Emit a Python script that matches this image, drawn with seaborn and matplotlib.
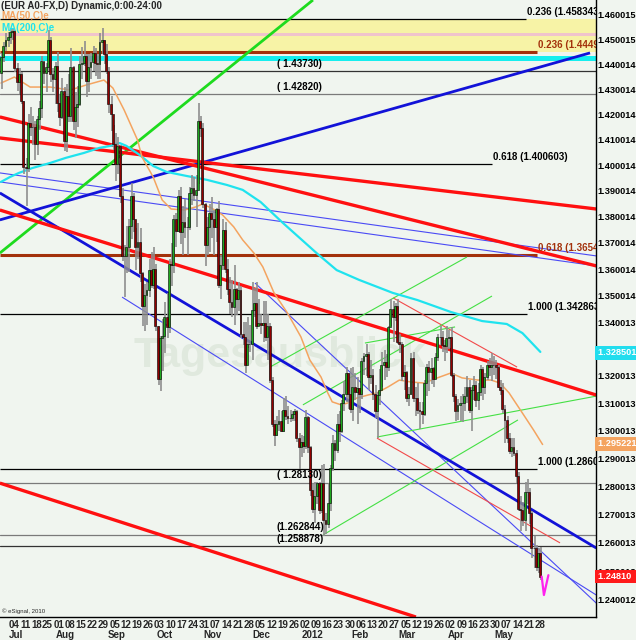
import numpy as np
import pandas as pd
import matplotlib
matplotlib.use("Agg")
import matplotlib.pyplot as plt
import matplotlib.transforms as mtrans
from matplotlib.ticker import NullLocator, NullFormatter, FixedLocator, FixedFormatter
import seaborn as sns

# ---- daily EUR/USD candles, 27 Jun 2011 .. 29 May 2012 ----
first_open = 1.4366
close = [1.4430, 1.4475, 1.4500, 1.4510, 1.4530,
         1.4535, 1.4385, 1.4330, 1.4360, 1.4255,
         1.3995, 1.3990, 1.4165, 1.4150, 1.4150,
         1.4085, 1.4180, 1.4225, 1.4415, 1.4365,
         1.4390, 1.4500, 1.4360, 1.4340, 1.4395,
         1.4245, 1.4190, 1.4295, 1.4095, 1.4275,
         1.4195, 1.4390, 1.4175, 1.4230, 1.4240,
         1.4400, 1.4405, 1.4435, 1.4335, 1.4390,
         1.4410, 1.4445, 1.4405, 1.4400, 1.4490,
         1.4500, 1.4440, 1.4375, 1.4240, 1.4200,
         1.4085, 1.4005, 1.4075, 1.3880, 1.3650,
         1.3650, 1.3685, 1.3765, 1.3880, 1.3790,
         1.3685, 1.3705, 1.3585, 1.3460, 1.3500,
         1.3520, 1.3595, 1.3540, 1.3600, 1.3385,
         1.3190, 1.3340, 1.3350, 1.3420, 1.3380,
         1.3620, 1.3615, 1.3790, 1.3745, 1.3880,
         1.3740, 1.3780, 1.3760, 1.3760, 1.3890,
         1.3910, 1.3885, 1.3905, 1.4175, 1.4145,
         1.3850, 1.3690, 1.3760, 1.3815, 1.3790,
         1.3760, 1.3830, 1.3540, 1.3615, 1.3750,
         1.3600, 1.3525, 1.3475, 1.3455, 1.3525,
         1.3485, 1.3520, 1.3355, 1.3345, 1.3240,
         1.3320, 1.3320, 1.3445, 1.3470, 1.3385,
         1.3395, 1.3390, 1.3395, 1.3345, 1.3385,
         1.3185, 1.3025, 1.2985, 1.3025, 1.3035,
         1.3000, 1.3075, 1.3055, 1.3045, 1.3045,
         1.3060, 1.3070, 1.2975, 1.2940, 1.2960,
         1.2945, 1.3050, 1.2940, 1.2785, 1.2720,
         1.2765, 1.2810, 1.2715, 1.2810, 1.2680,
         1.2665, 1.2740, 1.2865, 1.2955, 1.2930,
         1.3025, 1.3000, 1.3100, 1.3135, 1.3210,
         1.3135, 1.3080, 1.3160, 1.3140, 1.3155,
         1.3135, 1.3255, 1.3275, 1.3280, 1.3195,
         1.3205, 1.3135, 1.3070, 1.3130, 1.3150,
         1.3240, 1.3250, 1.3235, 1.3380, 1.3450,
         1.3420, 1.3460, 1.3325, 1.3320, 1.3200,
         1.3215, 1.3120, 1.3135, 1.3265, 1.3120,
         1.3120, 1.3075, 1.3070, 1.3060, 1.3175,
         1.3235, 1.3215, 1.3230, 1.3190, 1.3270,
         1.3345, 1.3345, 1.3315, 1.3310, 1.3340,
         1.3345, 1.3205, 1.3125, 1.3070, 1.3095,
         1.3100, 1.3100, 1.3125, 1.3160, 1.3075,
         1.3150, 1.3165, 1.3110, 1.3140, 1.3225,
         1.3160, 1.3195, 1.3240, 1.3235, 1.3240,
         1.3240, 1.3235, 1.3160, 1.3150, 1.3080,
         1.3040, 1.2975, 1.2925, 1.2940, 1.2920,
         1.2835, 1.2720, 1.2715, 1.2680, 1.2780,
         1.2780, 1.2705, 1.2580, 1.2580, 1.2515,
         1.2565, 1.2481]
high = [1.4445, 1.4490, 1.4525, 1.4530, 1.4545,
        1.4545, 1.4540, 1.4405, 1.4385, 1.4370,
        1.4255, 1.4030, 1.4200, 1.4230, 1.4195,
        1.4175, 1.4195, 1.4255, 1.4435, 1.4410,
        1.4405, 1.4540, 1.4510, 1.4385, 1.4410,
        1.4450, 1.4280, 1.4345, 1.4310, 1.4320,
        1.4360, 1.4465, 1.4395, 1.4290, 1.4315,
        1.4435, 1.4470, 1.4495, 1.4440, 1.4440,
        1.4445, 1.4475, 1.4465, 1.4440, 1.4525,
        1.4545, 1.4500, 1.4480, 1.4390, 1.4275,
        1.4160, 1.4125, 1.4110, 1.4080, 1.3910,
        1.3690, 1.3765, 1.3790, 1.3930, 1.3890,
        1.3755, 1.3775, 1.3755, 1.3590, 1.3545,
        1.3550, 1.3640, 1.3665, 1.3685, 1.3620,
        1.3385, 1.3350, 1.3410, 1.3475, 1.3510,
        1.3640, 1.3700, 1.3805, 1.3815, 1.3905,
        1.3915, 1.3840, 1.3870, 1.3800, 1.3915,
        1.3960, 1.3955, 1.3960, 1.4245, 1.4195,
        1.4165, 1.3855, 1.3800, 1.3850, 1.3875,
        1.3825, 1.3835, 1.3860, 1.3655, 1.3790,
        1.3780, 1.3640, 1.3570, 1.3560, 1.3615,
        1.3530, 1.3550, 1.3535, 1.3400, 1.3400,
        1.3420, 1.3390, 1.3550, 1.3530, 1.3550,
        1.3485, 1.3430, 1.3480, 1.3480, 1.3430,
        1.3395, 1.3195, 1.3040, 1.3055, 1.3075,
        1.3070, 1.3120, 1.3125, 1.3090, 1.3075,
        1.3070, 1.3080, 1.3075, 1.2990, 1.2985,
        1.2980, 1.3075, 1.3055, 1.2945, 1.2810,
        1.2815, 1.2815, 1.2815, 1.2875, 1.2880,
        1.2705, 1.2810, 1.2875, 1.2985, 1.2965,
        1.3060, 1.3070, 1.3110, 1.3180, 1.3235,
        1.3210, 1.3230, 1.3235, 1.3210, 1.3195,
        1.3155, 1.3265, 1.3285, 1.3320, 1.3290,
        1.3260, 1.3225, 1.3165, 1.3140, 1.3225,
        1.3290, 1.3295, 1.3280, 1.3385, 1.3485,
        1.3480, 1.3470, 1.3485, 1.3355, 1.3325,
        1.3240, 1.3220, 1.3160, 1.3285, 1.3290,
        1.3160, 1.3175, 1.3105, 1.3105, 1.3185,
        1.3245, 1.3255, 1.3265, 1.3235, 1.3285,
        1.3355, 1.3385, 1.3365, 1.3335, 1.3385,
        1.3370, 1.3380, 1.3210, 1.3135, 1.3115,
        1.3125, 1.3135, 1.3160, 1.3200, 1.3185,
        1.3160, 1.3200, 1.3180, 1.3175, 1.3240,
        1.3235, 1.3210, 1.3255, 1.3265, 1.3285,
        1.3275, 1.3260, 1.3240, 1.3185, 1.3175,
        1.3095, 1.3055, 1.2990, 1.2975, 1.2975,
        1.2930, 1.2850, 1.2765, 1.2745, 1.2815,
        1.2825, 1.2795, 1.2710, 1.2625, 1.2590,
        1.2580, 1.2585]
low = [1.4300, 1.4410, 1.4455, 1.4470, 1.4480,
       1.4500, 1.4370, 1.4295, 1.4280, 1.4240,
       1.3965, 1.3840, 1.3975, 1.4115, 1.4080,
       1.4020, 1.4040, 1.4140, 1.4185, 1.4320,
       1.4290, 1.4375, 1.4330, 1.4290, 1.4240,
       1.4210, 1.4155, 1.4180, 1.4055, 1.4050,
       1.4170, 1.4170, 1.4140, 1.4105, 1.4150,
       1.4235, 1.4340, 1.4395, 1.4270, 1.4290,
       1.4340, 1.4375, 1.4355, 1.4340, 1.4340,
       1.4440, 1.4400, 1.4360, 1.4205, 1.4135,
       1.4060, 1.3940, 1.3965, 1.3855, 1.3630,
       1.3495, 1.3585, 1.3590, 1.3715, 1.3740,
       1.3595, 1.3640, 1.3550, 1.3385, 1.3365,
       1.3390, 1.3495, 1.3530, 1.3525, 1.3365,
       1.3165, 1.3145, 1.3220, 1.3285, 1.3340,
       1.3360, 1.3535, 1.3585, 1.3685, 1.3740,
       1.3695, 1.3655, 1.3720, 1.3655, 1.3750,
       1.3845, 1.3860, 1.3760, 1.3925, 1.4110,
       1.3835, 1.3610, 1.3655, 1.3665, 1.3720,
       1.3655, 1.3705, 1.3530, 1.3485, 1.3595,
       1.3585, 1.3500, 1.3430, 1.3420, 1.3390,
       1.3425, 1.3440, 1.3340, 1.3315, 1.3210,
       1.3305, 1.3290, 1.3260, 1.3420, 1.3375,
       1.3385, 1.3355, 1.3325, 1.3330, 1.3260,
       1.3175, 1.3015, 1.2945, 1.2980, 1.3000,
       1.2995, 1.2995, 1.3040, 1.3025, 1.3030,
       1.3035, 1.3035, 1.2960, 1.2860, 1.2905,
       1.2920, 1.2935, 1.2920, 1.2765, 1.2705,
       1.2670, 1.2735, 1.2700, 1.2705, 1.2625,
       1.2630, 1.2650, 1.2710, 1.2855, 1.2890,
       1.2920, 1.2960, 1.2990, 1.3070, 1.3105,
       1.3080, 1.3065, 1.3035, 1.3110, 1.3025,
       1.3065, 1.3115, 1.3205, 1.3200, 1.3150,
       1.3170, 1.3110, 1.3045, 1.2975, 1.3095,
       1.3160, 1.3185, 1.3195, 1.3220, 1.3385,
       1.3325, 1.3405, 1.3320, 1.3285, 1.3180,
       1.3150, 1.3105, 1.3090, 1.3130, 1.3105,
       1.3055, 1.3060, 1.3005, 1.3025, 1.3055,
       1.3125, 1.3145, 1.3170, 1.3160, 1.3190,
       1.3255, 1.3315, 1.3290, 1.3255, 1.3285,
       1.3300, 1.3195, 1.3105, 1.3035, 1.3040,
       1.3035, 1.3030, 1.3070, 1.3100, 1.3065,
       1.3000, 1.3110, 1.3085, 1.3075, 1.3125,
       1.3110, 1.3135, 1.3185, 1.3200, 1.3180,
       1.3205, 1.3190, 1.3155, 1.3130, 1.3065,
       1.2955, 1.2955, 1.2915, 1.2905, 1.2910,
       1.2810, 1.2710, 1.2640, 1.2660, 1.2640,
       1.2735, 1.2665, 1.2545, 1.2510, 1.2500,
       1.2495, 1.2470]

# moving averages as drawn on the chart (trading-day index, price)
ma50_days = [0, 6, 13, 22, 31, 38, 46, 50, 55, 61, 63, 68, 72, 76, 82, 87, 90, 94,
             99, 104, 108, 113, 117, 122, 128, 134, 138, 143, 146, 148, 152, 155, 159,
             164, 168, 173, 178, 183, 189, 195, 201, 206, 213, 219, 223, 227, 233, 238, 242]
ma50 = [1.4325, 1.4349, 1.4309, 1.4309, 1.4297, 1.4317, 1.4337, 1.4305, 1.4218, 1.4099,
        1.4032, 1.3954, 1.3865, 1.3830, 1.3826, 1.3838, 1.3849, 1.3834, 1.3807, 1.3761,
        1.3711, 1.3661, 1.3608, 1.3510, 1.3434, 1.3345, 1.3259, 1.3196, 1.3138, 1.3105,
        1.3094, 1.3101, 1.3119, 1.3130, 1.3138, 1.3160, 1.3185, 1.3178, 1.3174, 1.3193,
        1.3211, 1.3193, 1.3185, 1.3185, 1.3174, 1.3138, 1.3064, 1.3002, 1.2950]
ma200_days = [0, 4, 8, 14, 22, 29, 37, 44, 49, 53, 56, 62, 68, 74, 83, 92, 101, 108,
              116, 126, 141, 150, 160, 175, 186, 201, 215, 226, 233, 241]
ma200 = [1.3935, 1.3954, 1.3970, 1.3989, 1.4009, 1.4029, 1.4048, 1.4068, 1.4076, 1.4087,
         1.4076, 1.4040, 1.3997, 1.3974, 1.3958, 1.3943, 1.3923, 1.3904, 1.3857, 1.3776,
         1.3661, 1.3596, 1.3559, 1.3510, 1.3483, 1.3438, 1.3404, 1.3393, 1.3359, 1.3289]

# horizontal levels
fib_levels = [1.458343, 1.4449, 1.400603, 1.3654, 1.342863, 1.2860]
fib_labels = ["0.236 (1.458343)", "0.236 (1.444900)", "0.618 (1.400603)",
              "0.618 (1.365400)", "1.000 (1.342863)", "1.000 (1.286000)"]
fib_end_day = [234.6, 239.5, 219.4, 239.5, 235.0, 239.5]
pivot_levels = [1.43730, 1.42820, 1.28130, 1.262844, 1.258878]
pivot_labels = ["( 1.43730)", "( 1.42820)", "( 1.28130)", "(1.262844)", "(1.258878)"]
cyan_level = 1.4424
pink_level = 1.4519

# trend lines: (day, price) -> (day, price)
thick_red = [((-0.5, 1.4190), (266, 1.3612)), ((-0.5, 1.4107), (266, 1.3830)),
             ((-0.5, 1.3826), (266, 1.3130)), ((-0.5, 1.2811), (185.4, 1.2341))]
thick_blue = [((-0.5, 1.3788), (263.2, 1.4446)), ((-0.5, 1.3892), (266, 1.2581))]
thick_green = [((-0.5, 1.3661), (139.4, 1.4661))]
thin_blue = [((-0.5, 1.3970), (266, 1.3650)), ((-0.5, 1.3935), (266, 1.3612)),
             ((54.1, 1.3494), (266, 1.2417)), ((113.5, 1.3547), (266, 1.2389))]
thin_red = [((175.2, 1.3491), (230.6, 1.3233)), ((168.0, 1.2973), (249.8, 1.2599))]
thin_green = [((120.2, 1.3233), (208.2, 1.3646)), ((134.9, 1.3094), (219.4, 1.3498)),
              ((143.9, 1.2627), (231.0, 1.3039)), ((168.0, 1.2977), (266, 1.3126)),
              ((162.6, 1.3322), (202.9, 1.3382))]
tick_days = [241.6, 242.6, 244.6]
tick_prices = [1.2481, 1.2417, 1.2486]

ytick_labels = ["1.460015", "1.450015", "1.440014", "1.430014", "1.420014", "1.410014",
                "1.400014", "1.390014", "1.380014", "1.370014", "1.360014", "1.350014",
                "1.340013", "1.330013", "1.320013", "1.310013", "1.300013", "1.290013",
                "1.280013", "1.270013", "1.260013", "1.250013", "1.240012"]
price_tags = [("1.328501", 1.3285, "#22DDEE"), ("1.295221", 1.2952, "#F4A460"),
              ("1.24810", 1.2481, "#FF1A1A")]

# ---------------------------------------------------------------------------
sns.set_style("white")
plt.rcParams["font.family"] = ["Liberation Sans", "DejaVu Sans"]
plt.rcParams["font.weight"] = "bold"

BG = "#F0F5EF"
BROWN = "#A3310B"
fs = 7.0      # labels inside the chart / bottom axis
fs_r = 6.6    # right-hand price scale

fig = plt.figure(figsize=(6.36, 6.40), dpi=100, facecolor=BG)
ax = fig.add_axes([0, 23 / 640, 596 / 636, 617 / 640], facecolor=BG)
ax.set_yscale("log")
ax.set_xlim(-0.447, 265.87)
ax.set_ylim(1.2341, 1.4661)

dates = pd.bdate_range("2011-06-27", periods=len(close))
days = np.arange(len(close))
c = np.array(close)
o = np.r_[first_open, c[:-1]]
up = c >= o

# watermark
ax.text(59, 1.3235, "Tagesausblick", fontsize=31, color="#E0E9DE", ha="left",
        va="baseline", zorder=0.5)

# bands and levels
ax.axhspan(1.4449, 1.458343, color="#F7F3A6", zorder=1, lw=0)
ax.axhspan(pink_level - 0.0006, pink_level + 0.0006, color="#F0C4CC", zorder=1.1, lw=0)
ax.axhline(cyan_level, color="#16EEEE", lw=3.6, zorder=1.2)
for lv, lb, end in zip(fib_levels, fib_labels, fib_end_day):
    col = BROWN if lv in (1.4449, 1.3654) else "black"
    w = 2.2 if col == BROWN else 0.9
    ax.plot([-0.5, end], [lv, lv], color=col, lw=w, zorder=1.3, solid_capstyle="butt")
    ax.annotate(lb, (end, lv), xytext=(1, 1.5), textcoords="offset points",
                ha="left", va="bottom", fontsize=fs, color=col, clip_on=True, zorder=6)
for lv, lb in zip(pivot_levels, pivot_labels):
    col = "#333333" if lv in (1.43730, 1.258878) else "#7a7a7a"
    ax.axhline(lv, color=col, lw=0.9, zorder=1.3)
    ax.annotate(lb, (123.3, lv), xytext=(0, 1.5), textcoords="offset points",
                ha="left", va="bottom", fontsize=fs, color="black", zorder=6)

# trend lines
def draw_lines(lines, color, lw, z):
    for (d0, p0), (d1, p1) in lines:
        ax.plot([d0, d1], [p0, p1], color=color, lw=lw, zorder=z, solid_capstyle="butt")

draw_lines(thin_blue, "#4A4AF5", 0.8, 2)
draw_lines(thin_red, "#F24A4A", 0.8, 2)
draw_lines(thin_green, "#44E044", 0.8, 2)
draw_lines(thick_green, "#1EDB1E", 2.0, 2.2)
draw_lines(thick_blue, "#1212D8", 2.0, 2.2)
draw_lines(thick_red, "#FF1010", 2.4, 2.2)

# moving averages
sns.lineplot(x=ma200_days, y=ma200, ax=ax, color="#1FE3EE", lw=1.6, zorder=2.5)
sns.lineplot(x=ma50_days, y=ma50, ax=ax, color="#F4A460", lw=1.1, zorder=2.5)

# candles
ax.vlines(days + 0.4, low, high, color="#8e8e8e", lw=1.2, zorder=3)
ax.bar(days[up], (c - o)[up], bottom=o[up], width=0.85, color="#1FA81F",
       edgecolor="black", lw=0.4, zorder=4)
ax.bar(days[~up], (o - c)[~up], bottom=c[~up], width=0.85, color="#930000",
       edgecolor="black", lw=0.4, zorder=4)

ax.plot(tick_days, tick_prices, color="#FF22EE", lw=1.6, zorder=5)

# right axis
ax.yaxis.tick_right()
ax.yaxis.set_major_locator(FixedLocator([float(t) for t in ytick_labels]))
ax.yaxis.set_major_formatter(FixedFormatter(ytick_labels))
ax.yaxis.set_minor_locator(NullLocator())
ax.yaxis.set_minor_formatter(NullFormatter())
ax.tick_params(axis="y", length=0, pad=1.2, labelsize=fs_r, labelcolor="black")

trans = mtrans.blended_transform_factory(ax.transAxes, ax.transData)
for txt, val, col in price_tags:
    ax.text(1.003, val, txt + "  ", transform=trans, ha="left", va="center",
            fontsize=fs_r, color="white", clip_on=False, zorder=7,
            bbox=dict(boxstyle="square,pad=0.25", fc=col, ec="none"))

# bottom axis: weekly day numbers and month names
mondays = [i for i, d in enumerate(dates) if d.dayofweek == 0 and i > 2]
ax.set_xticks([m + 0.8 for m in mondays])
ax.set_xticklabels([f"{dates[m].day:02d}" for m in mondays])
ax.tick_params(axis="x", length=1.5, width=0.6, pad=0.5, labelsize=fs, direction="out")
month_names = {7: "Jul", 8: "Aug", 9: "Sep", 10: "Oct", 11: "Nov", 12: "Dec",
               1: "2012", 2: "Feb", 3: "Mar", 4: "Apr", 5: "May"}
for i, d in enumerate(dates):
    if i > 0 and d.month != dates[i - 1].month:
        ax.annotate(month_names[d.month], (i - 0.5, 0), xycoords=("data", "axes fraction"),
                    xytext=(0, -9.6), textcoords="offset points", ha="left", va="top",
                    fontsize=fs, annotation_clip=False)

for s in ("top", "left"):
    ax.spines[s].set_visible(False)
for s in ("right", "bottom"):
    ax.spines[s].set_color("black")
    ax.spines[s].set_linewidth(1.0)

# header texts
ax.text(0.002, 0.999, "(EUR A0-FX,D) Dynamic,0:00-24:00", transform=ax.transAxes,
        ha="left", va="top", fontsize=fs, zorder=8)
ax.text(0.002, 1 - 16 / 617, "MA(50,C)e", transform=ax.transAxes, ha="left",
        va="center", fontsize=fs, color="#F4A460", zorder=8)
ax.text(0.002, 1 - 28 / 617, "MA(200,C)e", transform=ax.transAxes, ha="left",
        va="center", fontsize=fs, color="#1FE3EE", zorder=8)
ax.text(0.003, 6 / 617, "\u00a9 eSignal, 2010", transform=ax.transAxes, ha="left",
        va="center", fontsize=4.3, fontweight="normal", zorder=8)

fig.savefig("out.png", dpi=100, facecolor=BG)
